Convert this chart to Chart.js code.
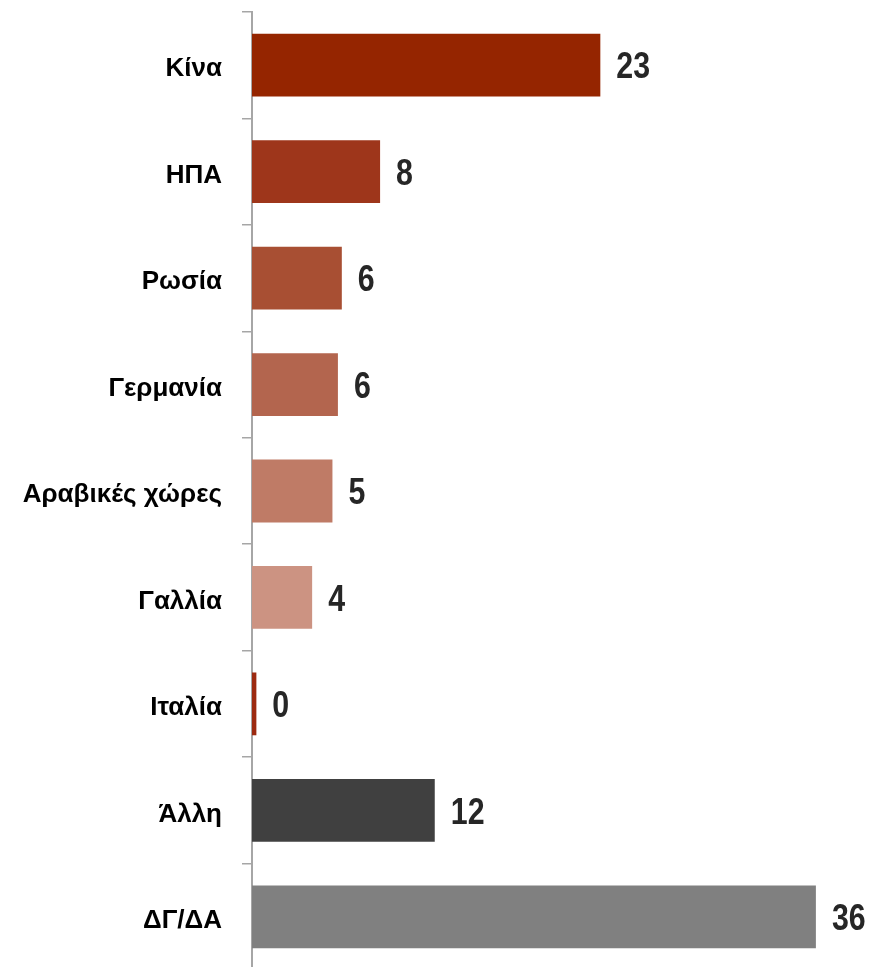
<!DOCTYPE html>
<html>
<head>
<meta charset="utf-8">
<script src="https://cdn.jsdelivr.net/npm/chart.js@4/dist/chart.umd.min.js"></script>
<style>
  html, body { margin: 0; padding: 0; background: #fff; overflow: hidden; }
  #wrap { width: 869px; height: 980px; position: relative; }
</style>
</head>
<body>
<div id="wrap"><canvas id="chart"></canvas></div>
<script>
const CATEGORIES = ["Κίνα", "ΗΠΑ", "Ρωσία", "Γερμανία", "Αραβικές χώρες", "Γαλλία", "Ιταλία", "Άλλη", "ΔΓ/ΔΑ"];
const VALUES = [22.3, 8.2, 5.75, 5.5, 5.15, 3.85, 0.28, 11.7, 36.1];
const VALUE_LABELS = ["23", "8", "6", "6", "5", "4", "0", "12", "36"];
const COLORS = ["#952500", "#9e361b", "#a84f33", "#b3654e", "#bf7b66", "#cc9382", "#9c2a10", "#404040", "#808080"];

const AXIS_GREY = "#a6a6a6";

// ── Value labels at the bar ends (squeezed to look like a narrow face) ──
const endLabels = {
  id: "endLabels",
  afterDatasetsDraw(chart) {
    const { ctx } = chart;
    const squeeze = 0.82;
    ctx.save();
    ctx.fillStyle = "#262626";
    ctx.font = "bold 37px 'Liberation Sans', Arial, sans-serif";
    ctx.textAlign = "left";
    ctx.textBaseline = "middle";
    chart.getDatasetMeta(0).data.forEach((bar, i) => {
      ctx.save();
      ctx.translate(bar.x + 16, bar.y + 3);
      ctx.scale(squeeze, 1);
      ctx.fillText(VALUE_LABELS[i], 0, 0);
      ctx.restore();
    });
    ctx.restore();
  }
};

new Chart(document.getElementById("chart"), {
  type: "bar",
  data: {
    labels: CATEGORIES,
    datasets: [{
      data: VALUES,
      backgroundColor: COLORS,
      borderWidth: 0,
      categoryPercentage: 1,
      barPercentage: 0.59
    }]
  },
  options: {
    indexAxis: "y",
    responsive: true,
    maintainAspectRatio: false,
    animation: false,
    layout: { padding: { top: 12, bottom: 10, left: 0, right: 0 } },
    plugins: {
      legend: { display: false },
      tooltip: { enabled: false }
    },
    scales: {
      x: {
        display: false,
        min: 0,
        max: 39.5
      },
      y: {
        afterFit(scale) {
          scale.width = 252;
          scale.paddingTop = 0;
          scale.paddingBottom = 0;
        },
        grid: {
          display: true,
          offset: true,
          drawOnChartArea: false,
          drawTicks: true,
          tickLength: 10,
          color: AXIS_GREY,
          lineWidth: 1.5
        },
        border: { display: true, color: AXIS_GREY, width: 2 },
        ticks: {
          color: "#000",
          padding: 20,
          labelOffset: 4,
          font: { family: "'Liberation Sans', Arial, sans-serif", weight: "bold", size: 26, lineHeight: 1 }
        }
      }
    }
  },
  plugins: [endLabels]
});
</script>
</body>
</html>
